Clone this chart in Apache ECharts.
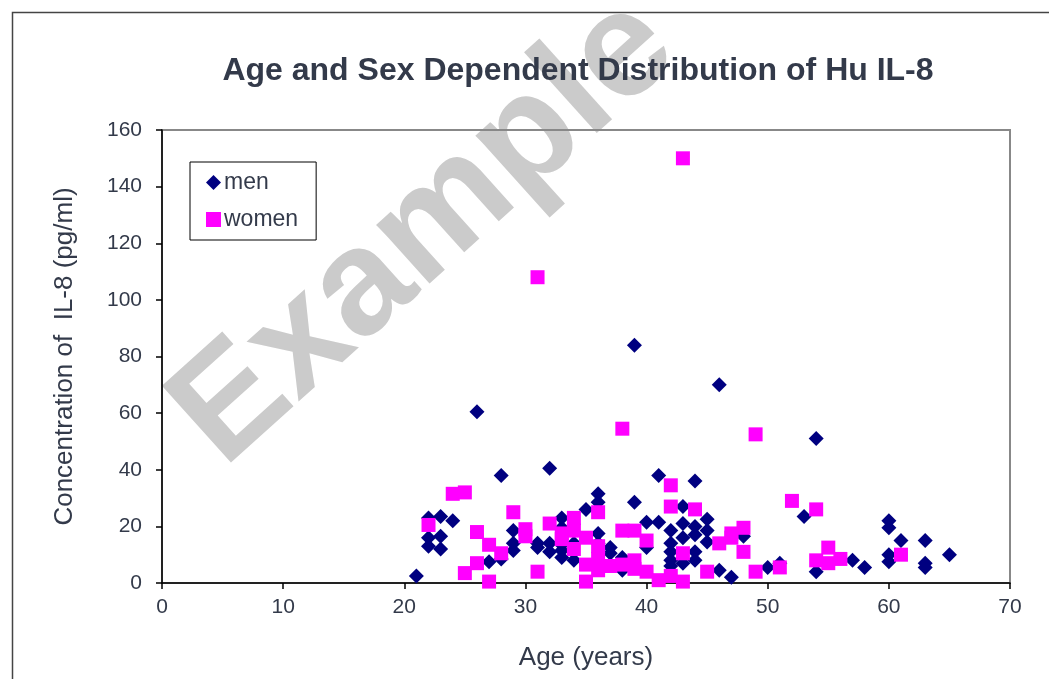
<!DOCTYPE html>
<html>
<head>
<meta charset="utf-8">
<script src="https://cdn.jsdelivr.net/npm/echarts@6/dist/echarts.min.js"></script>
<style>
html, body { margin: 0; padding: 0; background: #fff; }
#chart { width: 1049px; height: 679px; }
</style>
</head>
<body>
<div id="chart"></div>
<script>
// men: [age, IL-8 pg/ml]
var men = [
  [21, 2.5],
  [22, 23], [22, 16], [22, 13],
  [23, 23.5], [23, 16.5], [23, 12],
  [24, 22],
  [26, 60.5],
  [27, 7.5],
  [28, 38], [28, 8.5],
  [29, 18.5], [29, 14], [29, 11.5],
  [31, 14], [31, 12.5],
  [32, 40.5], [32, 14], [32, 11],
  [33, 23], [33, 19.5], [33, 13.5], [33, 11.5], [33, 9],
  [34, 8], [34, 14],
  [35, 26],
  [36, 31.5], [36, 28.5], [36, 17.5], [36, 14], [36, 6],
  [37, 12.5], [37, 10.5],
  [38, 9], [38, 4.5],
  [39, 84], [39, 28.5],
  [40, 21.5], [40, 12.5],
  [41, 38], [41, 21.5],
  [42, 18.5], [42, 14], [42, 11], [42, 8], [42, 6],
  [43, 27], [43, 21], [43, 16], [43, 7],
  [44, 36], [44, 20], [44, 17], [44, 11], [44, 8],
  [45, 22.5], [45, 18.5], [45, 14.5],
  [46, 70], [46, 4.5],
  [47, 2],
  [48, 16.5],
  [50, 5.5],
  [51, 7],
  [53, 23.5],
  [54, 51], [54, 4],
  [57, 8],
  [58, 5.5],
  [60, 22], [60, 19.5], [60, 10], [60, 7.5],
  [61, 15],
  [63, 15], [63, 7], [63, 5.5],
  [65, 10]
];

// women: [age, IL-8 pg/ml]
var women = [
  [22, 20.5],
  [24, 31.5],
  [25, 32], [25, 3.5],
  [26, 18], [26, 7],
  [27, 13.5], [27, 0.5],
  [28, 10.5],
  [29, 25],
  [30, 19], [30, 16.5],
  [31, 108], [31, 4],
  [32, 21],
  [33, 17.5], [33, 15.5],
  [34, 23], [34, 18.5], [34, 12],
  [35, 16], [35, 6.5], [35, 0.5],
  [36, 25], [36, 13], [36, 8.5], [36, 4.5],
  [37, 6],
  [38, 54.5], [38, 18.5], [38, 6.5],
  [39, 18.5], [39, 8], [39, 5],
  [40, 15], [40, 4],
  [41, 1],
  [42, 34.5], [42, 27], [42, 2.5],
  [43, 150], [43, 10.5], [43, 0.5],
  [44, 26],
  [45, 4],
  [46, 14],
  [47, 17.5], [47, 16],
  [48, 19.5], [48, 11],
  [49, 52.5], [49, 4],
  [51, 5.5],
  [52, 29],
  [54, 26], [54, 8],
  [55, 12.5], [55, 7],
  [56, 8.5],
  [61, 10]
];

var seriesNames = ['men', 'women'];
var titleText = 'Age and Sex Dependent Distribution of Hu IL-8';
var xName = 'Age (years)';
var yName = 'Concentration of  IL-8 (pg/ml)';

var chart = echarts.init(document.getElementById('chart'), null, {renderer: 'canvas'});
var font = 'Liberation Sans, Arial, sans-serif';

var option = {
  backgroundColor: '#fff',
  animation: false,
  title: {
    text: titleText,
    left: 573,
    top: 50,
    textAlign: 'center',
    textStyle: { fontFamily: font, fontSize: 32, fontWeight: 'bold', color: '#333a4a' }
  },
  graphic: [
    {
      type: 'rect', left: 10, top: 10, z: -10, silent: true,
      shape: { width: 1050, height: 680 },
      style: { fill: 'none', stroke: '#444', lineWidth: 1.5 }
    },
    {
      type: 'text', x: 425, y: 232, rotation: 42 * Math.PI / 180, z: -5, silent: true,
      style: {
        text: 'Example', font: 'bold 150px ' + font, fill: '#cbcbcb',
        textAlign: 'center', textVerticalAlign: 'middle'
      }
    }
  ],
  legend: {
    orient: 'vertical',
    left: 190,
    top: 162,
    padding: [9, 18, 9, 16],
    itemGap: 14,
    itemWidth: 15,
    itemHeight: 15,
    backgroundColor: '#fff',
    borderColor: '#000',
    borderWidth: 1,
    textStyle: { fontFamily: font, fontSize: 23, color: '#333a4a', padding: [0, 0, 0, -2] },
    data: [
      { name: seriesNames[0], icon: 'diamond' },
      { name: seriesNames[1], icon: 'rect' }
    ]
  },
  grid: {
    left: 162, top: 130, right: 39, bottom: 96,
    show: true, borderColor: '#888', borderWidth: 2, backgroundColor: 'transparent'
  },
  xAxis: {
    type: 'value', min: 0, max: 70, interval: 10,
    name: xName, nameLocation: 'middle', nameGap: 62,
    nameTextStyle: { fontFamily: font, fontSize: 26, color: '#333a4a' },
    axisLine: { show: true, lineStyle: { color: '#000', width: 1.5 } },
    axisTick: { show: true, length: 6, lineStyle: { color: '#000', width: 1.5 } },
    axisLabel: { fontFamily: font, fontSize: 21, color: '#333a4a', margin: 14 },
    splitLine: { show: false }
  },
  yAxis: {
    type: 'value', min: 0, max: 160, interval: 20,
    name: yName, nameLocation: 'middle', nameGap: 84,
    nameTextStyle: { fontFamily: font, fontSize: 26, color: '#333a4a' },
    axisLine: { show: true, lineStyle: { color: '#000', width: 1.5 } },
    axisTick: { show: true, length: 6, lineStyle: { color: '#000', width: 1.5 } },
    axisLabel: { fontFamily: font, fontSize: 21, color: '#333a4a', margin: 20 },
    splitLine: { show: false }
  },
  series: [
    {
      name: seriesNames[0], type: 'scatter', symbol: 'diamond', symbolSize: 15,
      itemStyle: { color: '#000080', opacity: 1 },
      data: men
    },
    {
      name: seriesNames[1], type: 'scatter', symbol: 'rect', symbolSize: 14,
      itemStyle: { color: '#ff00ff', opacity: 1 },
      data: women
    }
  ]
};
chart.setOption(option);
</script>
</body>
</html>
